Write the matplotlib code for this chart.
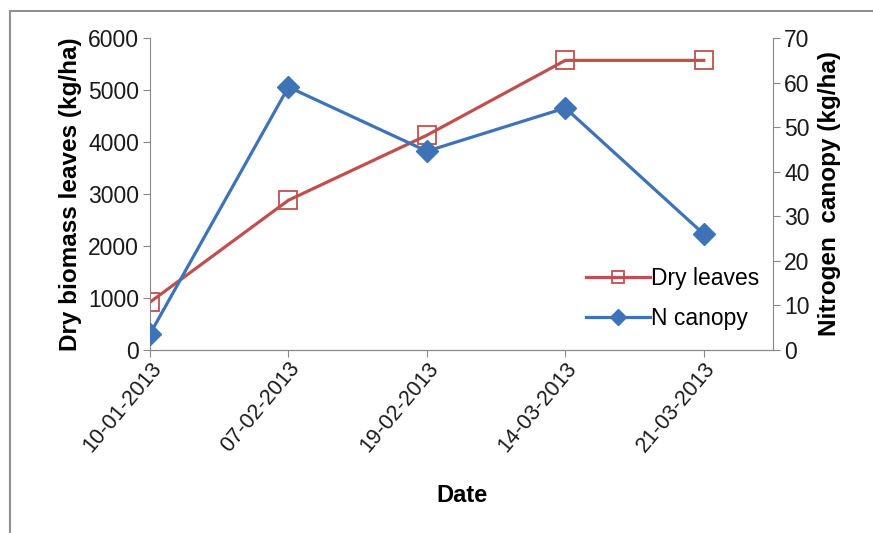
import matplotlib.pyplot as plt
from matplotlib.patches import Rectangle

plt.rcParams['font.family'] = ['Liberation Sans', 'DejaVu Sans']

dates = ['10-01-2013', '07-02-2013', '19-02-2013', '14-03-2013', '21-03-2013']
dry_leaves = [920, 2880, 4130, 5570, 5570]
n_canopy = [3.6, 59.0, 44.6, 54.3, 26.0]

red = '#C0504D'
blue = '#3F73B8'
grey = '#888888'

fig = plt.figure(figsize=(8.73, 5.33), dpi=100)
fig.patches.append(Rectangle((10/873, -0.1), 1.1, 1.1 - 11/533, transform=fig.transFigure,
                             fill=False, edgecolor='#909090', linewidth=1.5))

ax = fig.add_axes([150/873, 1 - 350/533, 623/873, 312/533])
ax2 = ax.twinx()

x = list(range(len(dates)))
l1, = ax.plot(x, dry_leaves, color=red, linewidth=2.3, marker='s', markersize=12.5,
              markerfacecolor='none', markeredgecolor=red, markeredgewidth=1.3, label='Dry leaves')
l2, = ax2.plot(x, n_canopy, color=blue, linewidth=2.3, marker='D', markersize=11.5,
               markerfacecolor=blue, markeredgecolor=blue, label='N canopy')

ax.set_xlim(0, 4.5)
ax.set_ylim(0, 6000)
ax2.set_ylim(0, 70)
ax.set_yticks(range(0, 6001, 1000))
ax2.set_yticks(range(0, 71, 10))
ax.set_xticks(x)
ax.set_xticklabels(dates, rotation=50, ha='right', rotation_mode='anchor')

for a in (ax, ax2):
    for s in a.spines.values():
        s.set_color(grey)
    a.spines['top'].set_visible(False)
    a.tick_params(colors=grey, labelcolor='#1a1a1a', labelsize=16.5, length=5, pad=3)
ax.tick_params(axis='x', labelsize=15.5, pad=1)
ax2.spines['left'].set_visible(False)
ax.spines['right'].set_visible(False)

ax.set_xlabel('Date', fontsize=17, fontweight='bold', labelpad=20)
ax.set_ylabel('Dry biomass leaves (kg/ha)', fontsize=17.5, fontweight='bold', labelpad=4)
ax2.set_ylabel('Nitrogen  canopy (kg/ha)', fontsize=17.5, fontweight='bold', labelpad=6)

ax.legend(handles=[l1, l2], loc='lower right', bbox_to_anchor=(1.0, 0.02), frameon=False,
          fontsize=16.5, handlelength=2.8, handletextpad=0.05, borderaxespad=0.2,
          labelspacing=0.75, markerscale=0.7)

fig.savefig('out.png', dpi=100)
